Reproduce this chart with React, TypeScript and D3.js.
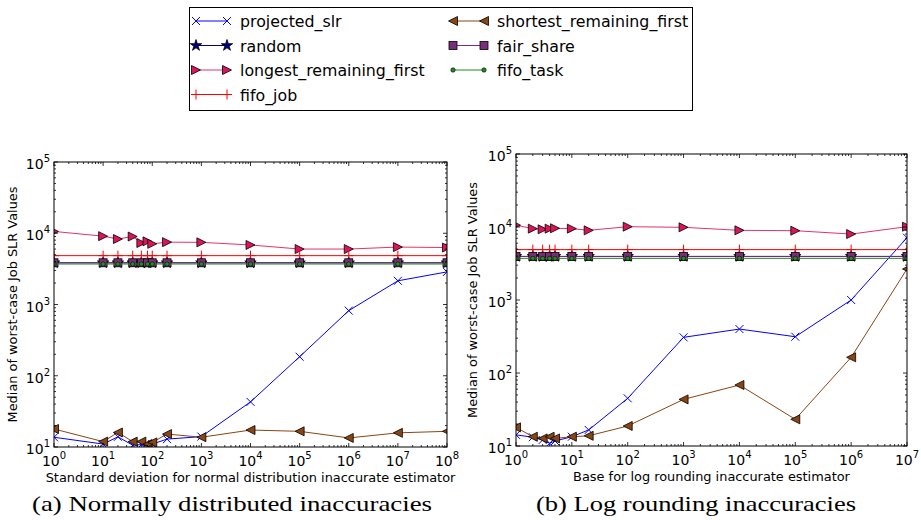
import React from 'react';
import * as d3 from 'd3';

// x values: std deviation (a) and log base (b)
const stdDevs = [1, 10, 20, 40, 60, 80, 100, 200, 1e3, 1e4, 1e5, 1e6, 1e7, 1e8];
const logBases = [1, 2, 3, 4, 5, 10, 20, 100, 1e3, 1e4, 1e5, 1e6, 1e7];

const seriesNames = ['projected_slr', 'random', 'longest_remaining_first', 'fifo_job',
  'shortest_remaining_first', 'fair_share', 'fifo_task'];

// (a) normally distributed inaccuracies
const normProjected = [13.7, 11, 13.9, 10.6, 10.8, 10.3, 11, 12.9, 14, 43, 185, 820, 2150, 2870];
const normRandom = [3850, 3850, 3850, 3850, 3850, 3850, 3850, 3850, 3850, 3850, 3850, 3850, 3850, 3850];
const normLongest = [10600, 9100, 8300, 9000, 7300, 7700, 7100, 7500, 7450, 6850, 6000, 6000, 6400, 6300];
const normFifoJob = [4850, 4850, 4850, 4850, 4850, 4850, 4850, 4850, 4850, 4850, 4850, 4850, 4850, 4850];
const normShortest = [17.9, 11.9, 16, 11.9, 11.9, 11, 11.6, 15.2, 13.7, 17.3, 16.6, 13.4, 15.8, 16.6];
const normFair = [3850, 3850, 3850, 3850, 3850, 3850, 3850, 3850, 3850, 3850, 3850, 3850, 3850, 3850];
const normFifoTask = [3700, 3700, 3700, 3700, 3700, 3700, 3700, 3700, 3700, 3700, 3700, 3700, 3700, 3700];

// (b) log rounding inaccuracies
const logProjected = [14.2, 13.2, 12.1, 10.9, 11.7, 13.4, 16.6, 45, 308, 400, 314, 1000, 7130];
const logRandom = [3950, 3950, 3950, 3950, 3950, 3950, 3950, 3950, 3950, 3950, 3950, 3950, 3950];
const logLongest = [10600, 9500, 9300, 9500, 9600, 9500, 9000, 10100, 9900, 9000, 8900, 8000, 10100];
const logFifoJob = [4900, 4900, 4900, 4900, 4900, 4900, 4900, 4900, 4900, 4900, 4900, 4900, 4900];
const logShortest = [18, 13.4, 12.7, 13.4, 12.7, 13.4, 13.8, 18.8, 43.5, 68.5, 23.2, 164, 2660];
const logFair = [3950, 3950, 3950, 3950, 3950, 3950, 3950, 3950, 3950, 3950, 3950, 3950, 3950];
const logFifoTask = [3720, 3720, 3720, 3720, 3720, 3720, 3720, 3720, 3720, 3720, 3720, 3720, 3720];

const normData = [normProjected, normRandom, normLongest, normFifoJob, normShortest, normFair, normFifoTask];
const logData = [logProjected, logRandom, logLongest, logFifoJob, logShortest, logFair, logFifoTask];

const styles: Record<string, { color: string; marker: string; fill?: string }> = {
  projected_slr: { color: '#0000ff', marker: 'x' },
  random: { color: '#000080', marker: 'star', fill: '#000080' },
  longest_remaining_first: { color: '#e2346a', marker: 'right', fill: '#dc1458' },
  fifo_job: { color: '#ff0000', marker: 'plus' },
  shortest_remaining_first: { color: '#8b4513', marker: 'left', fill: '#8b4513' },
  fair_share: { color: '#7a2e7a', marker: 'square', fill: '#7a2e7a' },
  fifo_task: { color: '#228b22', marker: 'circle', fill: '#228b22' },
};

const sans = 'DejaVu Sans, sans-serif';

const Marker = ({ type, x, y, color, fill }: any) => {
  if (type === 'x') {
    const r = 4;
    return <path d={`M${x - r},${y - r}L${x + r},${y + r}M${x - r},${y + r}L${x + r},${y - r}`} stroke={color} strokeWidth={1} />;
  }
  if (type === 'plus') {
    const r = 5;
    return <path d={`M${x - r},${y}L${x + r},${y}M${x},${y - r}L${x},${y + r}`} stroke={color} strokeWidth={1} />;
  }
  if (type === 'star') {
    return <path transform={`translate(${x},${y})`} d={d3.symbol(d3.symbolStar, 40)() || ''} fill={fill} stroke="#000" strokeWidth={0.8} />;
  }
  if (type === 'right' || type === 'left') {
    const r = 4.5, s = type === 'right' ? 1 : -1;
    return <polygon points={`${x + s * r},${y} ${x - s * r},${y - r} ${x - s * r},${y + r}`} fill={fill} stroke="#000" strokeWidth={0.8} />;
  }
  if (type === 'square') {
    return <rect x={x - 4} y={y - 4} width={8} height={8} fill={fill} stroke="#000" strokeWidth={0.8} />;
  }
  return <circle cx={x} cy={y} r={2.2} fill={fill} stroke="#000" strokeWidth={0.6} />;
};

const Pow = ({ x, y, e, anchor }: any) => (
  <text x={x} y={y} textAnchor={anchor} fontFamily={sans} fontSize={14} fill="#000">
    <tspan>10</tspan>
    <tspan dy={-7} fontSize={10}>{e}</tspan>
  </text>
);

const Panel = ({ id, x0, x1, y0, y1, xs, xMax, data, xLabel, yLabelX, caption, captionX, captionW }: any) => {
  const x = d3.scaleLog().domain([1, xMax]).range([x0, x1]);
  const y = d3.scaleLog().domain([10, 1e5]).range([y1, y0]);
  const line = d3.line<number>().x((d, i) => x(xs[i])).y(d => y(d));

  const xDec = d3.range(0, Math.round(Math.log10(xMax)) + 1);
  const yDec = d3.range(1, 6);
  const ticks: string[] = [];
  xDec.forEach(k => {
    const px = x(10 ** k);
    ticks.push(`M${px},${y1}v-4M${px},${y0}v4`);
    if (k < xDec.length - 1) d3.range(2, 10).forEach(m => {
      const p = x(m * 10 ** k);
      ticks.push(`M${p},${y1}v-2M${p},${y0}v2`);
    });
  });
  yDec.forEach(k => {
    const py = y(10 ** k);
    ticks.push(`M${x0},${py}h4M${x1},${py}h-4`);
    if (k < 5) d3.range(2, 10).forEach(m => {
      const p = y(m * 10 ** k);
      ticks.push(`M${x0},${p}h2M${x1},${p}h-2`);
    });
  });
  const cx = (x0 + x1) / 2;

  return (
    <g>
      <defs>
        <clipPath id={id}><rect x={x0} y={y0} width={x1 - x0} height={y1 - y0} /></clipPath>
      </defs>
      <g clipPath={`url(#${id})`}>
        {seriesNames.map((name, si) => {
          const st = styles[name];
          return (
            <g key={name}>
              <path d={line(data[si]) || ''} fill="none" stroke={st.color} strokeWidth={1} />
              {data[si].map((v: number, i: number) => (
                <Marker key={i} type={st.marker} x={x(xs[i])} y={y(v)} color={st.color} fill={st.fill} />
              ))}
            </g>
          );
        })}
      </g>
      <rect x={x0} y={y0} width={x1 - x0} height={y1 - y0} fill="none" stroke="#000" strokeWidth={1} />
      <path d={ticks.join('')} stroke="#000" strokeWidth={0.8} fill="none" />
      {xDec.map(k => <Pow key={k} x={x(10 ** k)} y={y1 + 19} e={k} anchor="middle" />)}
      {yDec.map(k => <Pow key={k} x={x0 - 4} y={y(10 ** k) + 7} e={k} anchor="end" />)}
      <text x={cx} y={y1 + 35} textAnchor="middle" fontFamily={sans} fontSize={12.9}>{xLabel}</text>
      <text transform={`translate(${yLabelX},${(y0 + y1) / 2}) rotate(-90)`} textAnchor="middle" fontFamily={sans} fontSize={12.9}>
        Median of worst-case Job SLR Values
      </text>
      <text x={captionX - captionW / 2} y={511} fontFamily="Liberation Serif, serif" fontSize={21}
        textLength={captionW} lengthAdjust="spacingAndGlyphs">{caption}</text>
    </g>
  );
};

const Legend = () => {
  const cols = [196, 453];
  const rows = [21, 45.5, 70, 94.5];
  return (
    <g>
      <rect x={189.5} y={7.5} width={503} height={103} fill="#fff" stroke="#000" strokeWidth={1} />
      {seriesNames.map((name, i) => {
        const st = styles[name];
        const lx = cols[i < 4 ? 0 : 1];
        const ly = rows[i < 4 ? i : i - 4];
        return (
          <g key={name}>
            <line x1={lx} x2={lx + 31} y1={ly} y2={ly} stroke={st.color} strokeWidth={1} />
            <Marker type={st.marker} x={lx} y={ly} color={st.color} fill={st.fill} />
            <Marker type={st.marker} x={lx + 31} y={ly} color={st.color} fill={st.fill} />
            <text x={lx + 44} y={ly + 6} fontFamily={sans} fontSize={15.8}>{name}</text>
          </g>
        );
      })}
    </g>
  );
};

export default function App() {
  return (
    <svg width={921} height={520} style={{ position: 'absolute', left: 0, top: 0, background: '#fff' }}>
      <Panel id="clipA" x0={54} x1={447} y0={162} y1={447} xs={stdDevs} xMax={1e8} data={normData}
        xLabel="Standard deviation for normal distribution inaccurate estimator" yLabelX={17}
        caption="(a) Normally distributed inaccuracies" captionX={232} captionW={400} />
      <Panel id="clipB" x0={516} x1={907} y0={154} y1={446} xs={logBases} xMax={1e7} data={logData}
        xLabel="Base for log rounding inaccurate estimator" yLabelX={477}
        caption="(b) Log rounding inaccuracies" captionX={696} captionW={320} />
      <Legend />
    </svg>
  );
}
